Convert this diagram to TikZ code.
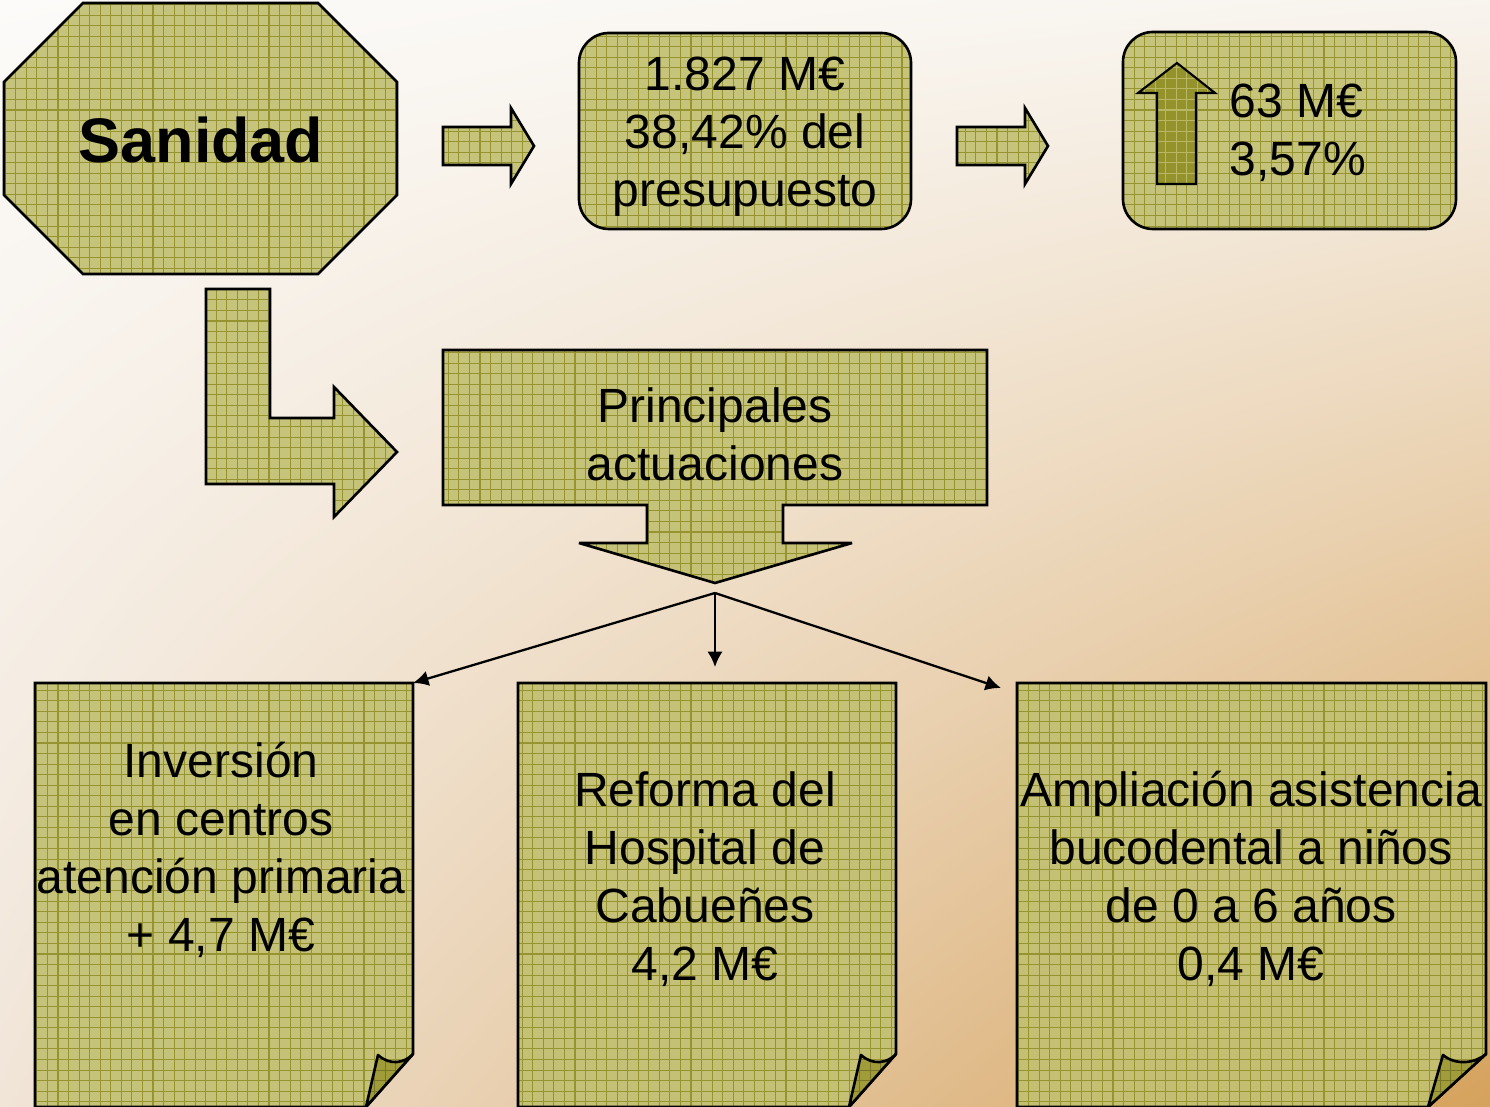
\documentclass[tikz,border=0pt]{standalone}
\usepackage{fontspec}
\setmainfont{Liberation Sans}
\usetikzlibrary{patterns,arrows.meta,shadings}
\definecolor{olivefill}{RGB}{194,192,114}
\definecolor{gridc}{RGB}{150,148,48}
\definecolor{flapc}{RGB}{160,156,58}
\definecolor{darkarrow}{RGB}{148,146,42}
\definecolor{bgTL}{RGB}{252,251,249}
\definecolor{bgTR}{RGB}{248,244,238}
\definecolor{bgBL}{RGB}{241,229,216}
\definecolor{bgBR}{RGB}{214,162,92}
\pgfdeclarepatternformonly{fgrid}{\pgfqpoint{-0.5pt}{-0.5pt}}{\pgfqpoint{3.5pt}{3.5pt}}{\pgfqpoint{3pt}{3pt}}{%
  \pgfsetlinewidth{0.3pt}%
  \pgfpathmoveto{\pgfqpoint{0pt}{1.5pt}}\pgfpathlineto{\pgfqpoint{3pt}{1.5pt}}%
  \pgfpathmoveto{\pgfqpoint{1.5pt}{0pt}}\pgfpathlineto{\pgfqpoint{1.5pt}{3pt}}%
  \pgfusepath{stroke}}
\tikzset{
  shp/.style={draw=black, line width=0.75pt, line join=miter, miter limit=4,
    preaction={fill=olivefill, fill opacity=0.92},
    preaction={pattern=fgrid, pattern color=gridc}},
  flap/.style={draw=black, line width=0.75pt, line join=round,
    preaction={fill=flapc},
    preaction={pattern=fgrid, pattern color=gridc!80!black}},
  darrow/.style={draw=black, line width=0.6pt, line join=miter,
    preaction={fill=darkarrow},
    preaction={pattern=fgrid, pattern color=olivefill!80!darkarrow}},
  txt/.style={inner sep=0pt, align=center, font=\fontsize{13.66}{16.5}\selectfont},
  conn/.style={line width=0.65pt, -{Latex[length=4.4pt,width=4.4pt]}}
}
\begin{document}
\begin{tikzpicture}[x=0.01cm,y=-0.01cm]
\useasboundingbox (0,0) rectangle (1490,1107);
\shade[upper left=bgTL, upper right=bgTR, lower left=bgBL, lower right=bgBR] (0,0) rectangle (1490,1107);

% Sanidad octagon
\draw[shp] (83,3) -- (318,3) -- (397,82) -- (397,195) -- (318,274) -- (83,274) -- (4,195) -- (4,82) -- cycle;
\node[inner sep=0pt, font=\fontsize{17.9}{20}\selectfont\bfseries] (san) at (201,140) {Sanidad};

% right arrows
\draw[shp] (443,127) -- (511,127) -- (511,108) -- (534,146) -- (511,184) -- (511,165) -- (443,165) -- cycle;
\draw[shp] (957,127) -- (1025,127) -- (1025,108) -- (1048,146) -- (1025,184) -- (1025,165) -- (957,165) -- cycle;

% budget box
\draw[shp, rounded corners=0.3cm] (579,33) rectangle (911,229);
\node[txt] (budget) at (745,137) {1.827 M€\\38,42\% del\\presupuesto};

% increase box
\draw[shp, rounded corners=0.3cm] (1123,32) rectangle (1456,229);
\draw[darrow] (1157,184) -- (1157,93) -- (1138,93) -- (1177,63) -- (1215,93) -- (1196,93) -- (1196,184) -- cycle;
\node[txt, align=left, anchor=west] (incr) at (1229,133) {63 M€\\3,57\%};

% bent arrow
\draw[shp] (206,289) -- (270,289) -- (270,418) -- (334,418) -- (334,387) -- (397,452) -- (334,517) -- (334,484) -- (206,484) -- cycle;

% Principales actuaciones callout
\draw[shp] (443,350) -- (987,350) -- (987,505) -- (783,505) -- (783,543) -- (852,543) -- (715,583) -- (579,543) -- (647,543) -- (647,505) -- (443,505) -- cycle;
\node[txt] (princ) at (715,434) {Principales\\actuaciones};

% note boxes
\draw[shp] (35,683) -- (413,683) coordinate (n1ne) -- (413,1054) -- (366,1107) -- (35,1107) -- cycle;
\draw[flap] (378,1055) .. controls (390,1066) and (405,1063) .. (413,1054) -- (366,1107) -- cycle;
\node[txt] (inv) at (221,850) {Inversión\\en centros\\atención primaria\\+ 4,7 M€};

\draw[shp] (518,683) -- (896,683) -- (896,1054) -- (849,1107) -- (518,1107) -- cycle;
\draw[flap] (861,1055) .. controls (873,1066) and (888,1063) .. (896,1054) -- (849,1107) -- cycle;
\node[txt] (ref) at (705,879) {Reforma del\\Hospital de\\Cabueñes\\4,2 M€};

\draw[shp] (1017,683) -- (1486,683) -- (1486,1054) -- (1428,1107) -- (1017,1107) -- cycle;
\draw[flap] (1443,1055) .. controls (1456,1066) and (1476,1063) .. (1486,1054) -- (1428,1107) -- cycle;
\node[txt] (amp) at (1251,879) {Ampliación asistencia\\bucodental a niños\\de 0 a 6 años\\0,4 M€};

% connectors
\coordinate (hub) at (715,593);
\coordinate (midtip) at (715,667);
\coordinate (righttip) at (1001,688);
\draw[conn] (hub) -- (n1ne);
\draw[conn] (hub) -- (midtip);
\draw[conn] (hub) -- (righttip);
\end{tikzpicture}
\end{document}
